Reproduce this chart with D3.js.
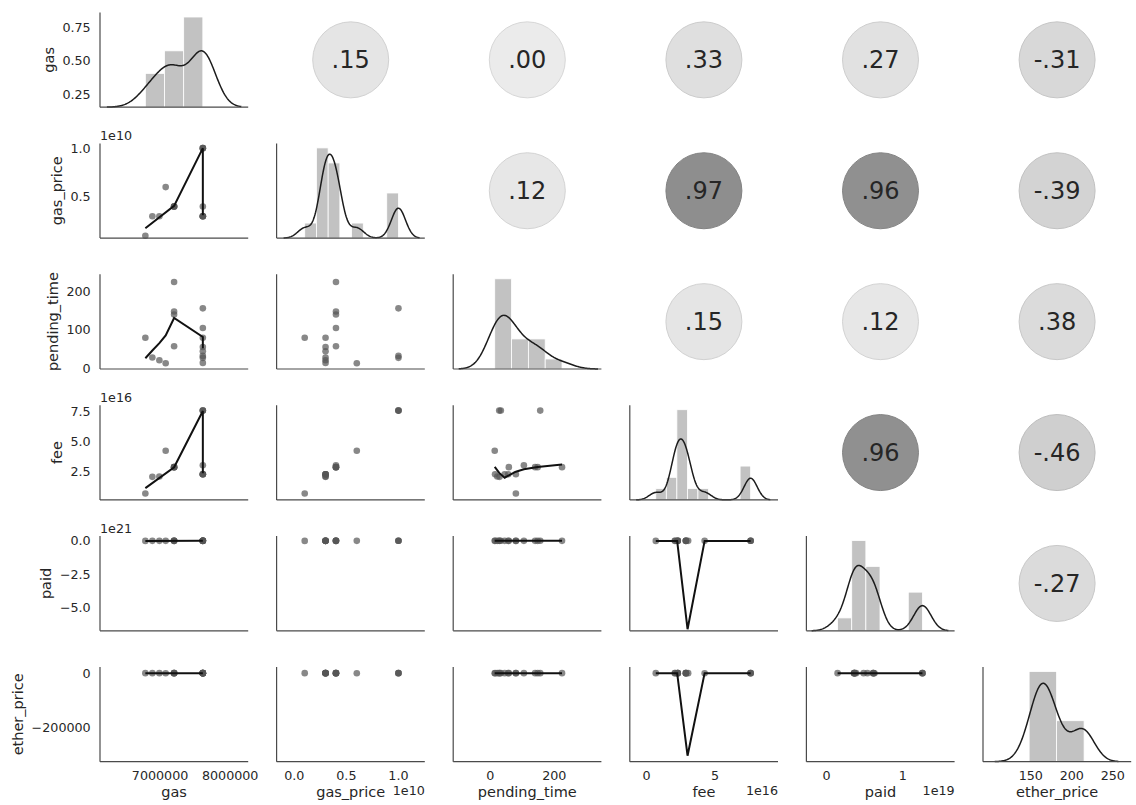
<!DOCTYPE html>
<html>
<head>
<meta charset="utf-8">
<script src="https://cdn.jsdelivr.net/npm/d3@7"></script>
<style>
  body { margin: 0; background: #fff; }
  text { font-family: "DejaVu Sans", sans-serif; fill: #262626; }
</style>
</head>
<body>
<svg width="1136" height="805"></svg>
<script>
// variables of the grid, in row / column order
const variables = ["gas", "gas_price", "pending_time", "fee", "paid", "ether_price"];

// one value per transaction (16 rows)
const gas = [6790000, 6890000, 6990000, 7080000, 7200000, 7200000, 7200000, 7200000,
  7610000, 7610000, 7610000, 7610000, 7610000, 7610000, 7610000, 7610000];
const gasPrice = [1e9, 3e9, 3e9, 6e9, 4e9, 4e9, 4e9, 4e9, 1e10, 1e10, 1e10, 4e9, 3e9, 3e9, 3e9, 3e9];
const pendingTime = [80, 29, 22, 14, 224, 148, 58, 140, 156, 33, 28, 105, 80, 56, 45, 15];
const fee = [0.679e16, 2.067e16, 2.097e16, 4.248e16, 2.88e16, 2.88e16, 2.88e16, 2.88e16,
  7.61e16, 7.61e16, 7.61e16, 3.044e16, 2.283e16, 2.283e16, 2.283e16, 2.283e16];
const paid = [0.146e19, 0.362e19, 0.369e19, 0.629e19, 0.613e19, 0.611e19, 0.536e19, 0.616e19,
  1.256e19, 1.256e19, 1.256e19, 0.487e19, 0.361e19, 0.365e19, 0.37e19, 0.388e19];
const etherPrice = [215, 175, 176, 148, 213, 212, 186, 214, 165, 165, 165, 160, 158, 160, 162, 170];

// number of histogram bins on the diagonal
const binCounts = [3, 8, 4, 9, 6, 2];

// correlation labels, upper triangle read row by row
const corrLabels = [".15", ".00", ".33", ".27", "-.31",
  ".12", ".97", ".96", "-.39",
  ".15", ".12", ".38",
  ".96", "-.46",
  "-.27"];

// smoothed lines drawn in the lower panels [row, col, points]
const smoothLines = [
  [1, 0, [[6790000, 0.176e10], [7200000, 0.407e10], [7610000, 1.0e10], [7610000, 0.31e10]]],
  [2, 0, [[6790000, 27], [6890000, 47], [6990000, 66], [7080000, 86], [7200000, 131], [7610000, 82], [7610000, 53]]],
  [3, 0, [[6790000, 1.12e16], [7200000, 2.87e16], [7610000, 7.58e16], [7610000, 2.37e16]]],
  [4, 0, [[6790000, 0.3e19], [7610000, 0.5e19]]],
  [5, 0, [[6790000, 178], [7610000, 175]]],
  [3, 2, [[14, 2.9e16], [28, 2.4e16], [45, 2.0e16], [58, 2.2e16], [80, 2.5e16], [105, 2.7e16], [148, 2.9e16], [224, 3.1e16]]],
  [4, 2, [[14, 0.5e19], [224, 0.5e19]]],
  [5, 2, [[14, 178], [224, 178]]],
  [4, 3, [[0.679e16, 0.3e19], [2.097e16, 0.3e19], [2.24e16, 0.1e19], [3.0e16, -6.6e21], [4.248e16, 0.3e19], [7.61e16, 0.3e19]]],
  [5, 3, [[0.679e16, 178], [2.097e16, 178], [2.24e16, 0], [3.0e16, -304000], [4.248e16, 178], [7.61e16, 178]]],
  [5, 4, [[0.146e19, 178], [1.256e19, 178]]]
];

// axis limits and ticks
const xDomains = [[6.143e6, 8.257e6], [-0.170e10, 1.253e10], [-115.6, 346.9],
  [-1.22e16, 9.61e16], [-0.262e19, 1.677e19], [91.8, 272.4]];
const yDomains = [[0.156, 0.859], [0.0756e10, 1.049e10], [-0.8, 244],
  [0.14e16, 8.06e16], [-6.72e21, 0.36e21], [-326000, 22900]];
const xTickValues = [[7e6, 8e6], [0, 5e9, 1e10], [0, 200], [0, 5e16], [0, 1e19], [150, 200, 250]];
const xTickLabels = [["7000000", "8000000"], ["0.0", "0.5", "1.0"], ["0", "200"], ["0", "5"], ["0", "1"], ["150", "200", "250"]];
const xOffsets = ["", "1e10", "", "1e16", "1e19", ""];
const yTickValues = [[0.25, 0.5, 0.75], [5e9, 1e10], [0, 100, 200], [2.5e16, 5e16, 7.5e16], [0, -2.5e21, -5e21], [0, -200000]];
const yTickLabels = [["0.25", "0.50", "0.75"], ["0.5", "1.0"], ["0", "100", "200"], ["2.5", "5.0", "7.5"],
  ["0.0", "\u22122.5", "\u22125.0"], ["0", "\u2212200000"]];
const yOffsets = ["", "1e10", "", "1e16", "1e21", ""];

const columns = [gas, gasPrice, pendingTime, fee, paid, etherPrice];
const n = gas.length;

const svg = d3.select("svg");
const cellW = 148.2, cellH = 94.7;
const cellLeft = j => 100 + 176.6 * j;
const cellTop = i => 12.5 + 130.9 * i;

const xScales = xDomains.map((d, j) => d3.scaleLinear().domain(d).range([cellLeft(j), cellLeft(j) + cellW]));
const yScales = yDomains.map((d, i) => d3.scaleLinear().domain(d).range([cellTop(i) + cellH, cellTop(i)]));

// correlation circle colour (greyed coolwarm look)
const corrColor = d3.scaleLinear()
  .domain([-1, -0.46, 0, 0.35, 0.5, 1])
  .range(["#969696", "#cfcfcf", "#ebebeb", "#dedede", "#d0d0d0", "#8a8a8a"]);

// gaussian kde with scott bandwidth (statsmodels style)
function kde(values) {
  const sd = d3.deviation(values);
  const iqr = d3.quantile(values, 0.75) - d3.quantile(values, 0.25);
  const bw = 1.059 * Math.min(sd, iqr / 1.349) * Math.pow(values.length, -0.2);
  const lo = d3.min(values) - 3 * bw, hi = d3.max(values) + 3 * bw;
  const pts = [];
  for (let k = 0; k <= 200; k++) {
    const x = lo + (hi - lo) * k / 200;
    const s = d3.sum(values, v => Math.exp(-0.5 * ((x - v) / bw) ** 2));
    pts.push([x, s / (values.length * bw * Math.sqrt(2 * Math.PI))]);
  }
  return pts;
}

// equal width histogram between min and max, as numpy does
function histogram(values, k) {
  const lo = d3.min(values), hi = d3.max(values), w = (hi - lo) / k;
  const bins = d3.range(k).map(b => ({ x0: lo + b * w, x1: lo + (b + 1) * w, count: 0 }));
  values.forEach(v => {
    const b = Math.min(k - 1, Math.floor((v - lo) / w + 1e-9));
    bins[b].count += 1;
  });
  bins.forEach(b => b.density = b.count / (values.length * w));
  return bins;
}

function drawSpines(g, i, j) {
  const x0 = cellLeft(j), y0 = cellTop(i);
  g.append("line").attr("x1", x0).attr("x2", x0).attr("y1", y0).attr("y2", y0 + cellH)
    .attr("stroke", "#4a4a4a").attr("stroke-width", 1.2);
  g.append("line").attr("x1", x0).attr("x2", x0 + cellW).attr("y1", y0 + cellH).attr("y2", y0 + cellH)
    .attr("stroke", "#4a4a4a").attr("stroke-width", 1.2);
}

let corrIndex = 0;
for (let i = 0; i < 6; i++) {
  for (let j = 0; j < 6; j++) {
    const g = svg.append("g");
    const x = xScales[j];
    if (i === j) {
      // diagonal: histogram + kde on its own y scale
      const vals = columns[j];
      const bins = histogram(vals, binCounts[j]);
      const curve = kde(vals);
      const yMax = 1.05 * Math.max(d3.max(bins, b => b.density), d3.max(curve, p => p[1]));
      const y = d3.scaleLinear().domain([0, yMax]).range([cellTop(i) + cellH, cellTop(i)]);
      g.selectAll("rect").data(bins.filter(b => b.count > 0)).enter().append("rect")
        .attr("x", b => x(b.x0)).attr("width", b => x(b.x1) - x(b.x0))
        .attr("y", b => y(b.density)).attr("height", b => y(0) - y(b.density))
        .attr("fill", "#c2c2c2").attr("stroke", "#fff").attr("stroke-width", 0.8);
      g.append("path").datum(curve)
        .attr("d", d3.line().x(p => x(p[0])).y(p => y(p[1])))
        .attr("fill", "none").attr("stroke", "#1c1c1c").attr("stroke-width", 1.5);
      drawSpines(g, i, j);
    } else if (i > j) {
      // lower: scatter + smoothed line
      const y = yScales[i];
      const pts = d3.range(n).map(k => [columns[j][k], columns[i][k]]);
      g.selectAll("circle").data(pts).enter().append("circle")
        .attr("cx", p => x(p[0])).attr("cy", p => y(p[1])).attr("r", 3.3)
        .attr("fill", "#555").attr("fill-opacity", 0.7);
      smoothLines.filter(s => s[0] === i && s[1] === j).forEach(s => {
        g.append("path").datum(s[2])
          .attr("d", d3.line().x(p => x(p[0])).y(p => y(p[1])))
          .attr("fill", "none").attr("stroke", "#111").attr("stroke-width", 2);
      });
      drawSpines(g, i, j);
    } else {
      // upper: correlation dot
      const label = corrLabels[corrIndex++];
      const r = parseFloat(label);
      const cx = cellLeft(j) + cellW / 2, cy = cellTop(i) + cellH / 2;
      g.append("circle").attr("cx", cx).attr("cy", cy).attr("r", 38)
        .attr("fill", corrColor(r)).attr("stroke", d3.color(corrColor(r)).darker(0.25)).attr("stroke-width", 1);
      g.append("text").attr("x", cx).attr("y", cy).attr("dy", "0.35em")
        .attr("text-anchor", "middle").style("font-size", "24px").text(label);
    }
  }
}

// y tick labels + labels on the first column
for (let i = 0; i < 6; i++) {
  const y = yScales[i];
  const g = svg.append("g");
  const texts = g.selectAll("text").data(yTickValues[i]).enter().append("text")
    .attr("x", cellLeft(0) - 9.3).attr("y", v => y(v)).attr("dy", "0.35em")
    .attr("text-anchor", "end").style("font-size", "12.7px")
    .text((v, k) => yTickLabels[i][k]);
  let minLeft = cellLeft(0);
  texts.each(function () { minLeft = Math.min(minLeft, this.getBBox().x); });
  const bx = minLeft - 5.3 - 3.4;
  svg.append("text")
    .attr("transform", `translate(${bx},${cellTop(i) + cellH / 2}) rotate(-90)`)
    .attr("text-anchor", "middle").style("font-size", "14.5px").text(variables[i]);
  if (yOffsets[i]) {
    svg.append("text").attr("x", cellLeft(0)).attr("y", cellTop(i) - 3)
      .style("font-size", "12.7px").text(yOffsets[i]);
  }
}

// x tick labels + labels on the bottom row
const bottom = cellTop(5) + cellH;
for (let j = 0; j < 6; j++) {
  const x = xScales[j];
  svg.append("g").selectAll("text").data(xTickValues[j]).enter().append("text")
    .attr("x", v => x(v)).attr("y", bottom + 18)
    .attr("text-anchor", "middle").style("font-size", "12.7px")
    .text((v, k) => xTickLabels[j][k]);
  svg.append("text").attr("x", cellLeft(j) + cellW / 2).attr("y", bottom + 35)
    .attr("text-anchor", "middle").style("font-size", "14.5px").text(variables[j]);
  if (xOffsets[j]) {
    svg.append("text").attr("x", cellLeft(j) + cellW).attr("y", bottom + 33.5)
      .attr("text-anchor", "end").style("font-size", "12.7px").text(xOffsets[j]);
  }
}
</script>
</body>
</html>
